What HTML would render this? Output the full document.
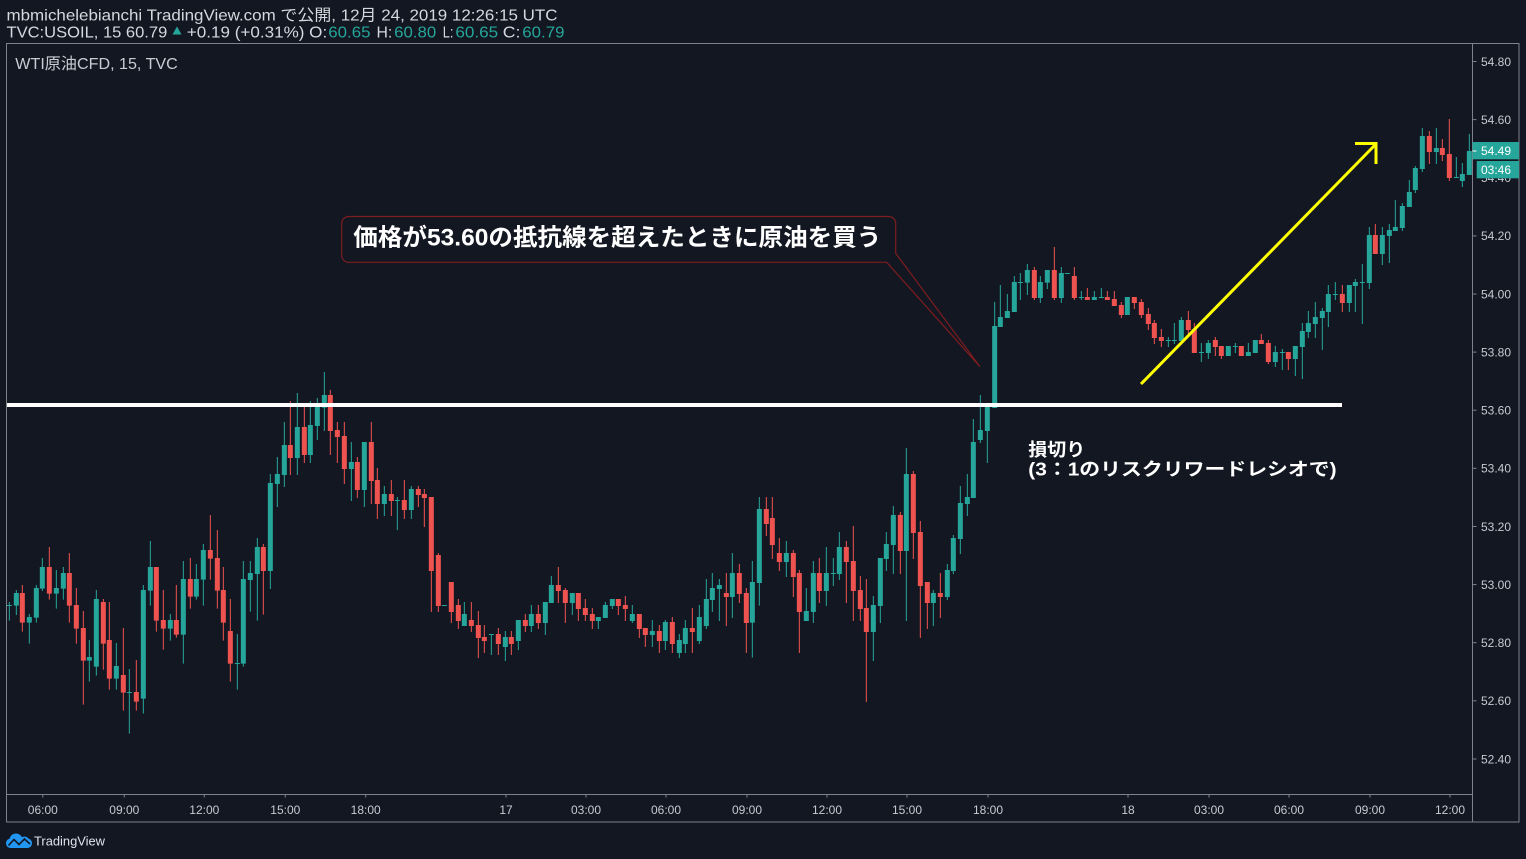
<!DOCTYPE html>
<html>
<head>
<meta charset="utf-8">
<style>
html,body{margin:0;padding:0;background:#131722;}
svg{display:block;}
.t{font-family:"Liberation Sans","Noto Sans CJK JP",sans-serif;}
</style>
</head>
<body>
<svg width="1526" height="859" viewBox="0 0 1526 859" xmlns="http://www.w3.org/2000/svg">
<rect x="0" y="0" width="1526" height="859" fill="#131722"/>

<!-- header -->
<text class="t" x="6.5" y="20.5" font-size="16" fill="#d6d8de" textLength="551" lengthAdjust="spacingAndGlyphs">mbmichelebianchi TradingView.com で公開, 12月 24, 2019 12:26:15 UTC</text>
<g class="t" font-size="16">
<text x="6.5" y="37.5" fill="#d6d8de" textLength="160.8" lengthAdjust="spacingAndGlyphs">TVC:USOIL, 15 60.79</text>
<polygon points="172.5,34.5 181.5,34.5 177,26.5" fill="#26a69a"/>
<text x="186.8" y="37.5" fill="#d6d8de" textLength="140.4" lengthAdjust="spacingAndGlyphs">+0.19 (+0.31%) O:</text>
<text x="328.3" y="37.5" fill="#26a69a" textLength="42.2" lengthAdjust="spacingAndGlyphs">60.65</text>
<text x="376.5" y="37.5" fill="#d6d8de" textLength="15.8" lengthAdjust="spacingAndGlyphs">H:</text>
<text x="394.1" y="37.5" fill="#26a69a" textLength="42.1" lengthAdjust="spacingAndGlyphs">60.80</text>
<text x="442.8" y="37.5" fill="#d6d8de" textLength="10.7" lengthAdjust="spacingAndGlyphs">L:</text>
<text x="455.4" y="37.5" fill="#26a69a" textLength="42.8" lengthAdjust="spacingAndGlyphs">60.65</text>
<text x="502.8" y="37.5" fill="#d6d8de" textLength="17.6" lengthAdjust="spacingAndGlyphs">C:</text>
<text x="522.3" y="37.5" fill="#26a69a" textLength="42.2" lengthAdjust="spacingAndGlyphs">60.79</text>
</g>

<!-- frame -->
<rect x="6.5" y="43.5" width="1512.5" height="778.5" fill="none" stroke="#7f828c" stroke-width="1"/>
<line x1="1472.5" y1="43.5" x2="1472.5" y2="822" stroke="#7f828c" stroke-width="1"/>
<line x1="6.5" y1="794.5" x2="1472.5" y2="794.5" stroke="#7f828c" stroke-width="1"/>

<!-- legend -->
<text class="t" x="15.3" y="69" font-size="16" fill="#c9ccd3" textLength="162.5" lengthAdjust="spacingAndGlyphs">WTI原油CFD, 15, TVC</text>

<!-- callout -->
<path d="M348.7 216.5 H888.7 A7 7 0 0 1 895.7 223.5 V253.3 L980 366.7 L886.7 262.3 H348.7 A7 7 0 0 1 341.7 255.3 V223.5 A7 7 0 0 1 348.7 216.5 Z" fill="#131722" stroke="#7e1d1f" stroke-width="1.2"/>
<text class="t" x="353.3" y="245.7" font-size="24" font-weight="bold" fill="#ffffff" textLength="528" lengthAdjust="spacingAndGlyphs">価格が53.60の抵抗線を超えたときに原油を買う</text>

<!-- candles group A -->
<g transform="translate(0 535) scale(0.333333)" fill="none">
<path stroke="#26a69a" stroke-width="3" d="M28 201V257M49 165V240M88 237V326M109 150V263M127 69V168M169 105V221M190 96V194M268 315V440M289 165V422M349 324V464M388 402V596M430 150V536M451 18V212M511 237V317M550 78V386M589 87V194M610 27V212M712 297V464M730 78V395"/>
<path stroke="#26a69a" stroke-width="15" d="M28 210V213M49 174V212M88 246V263M109 159V248M127 96V161M169 159V176M190 114V161M268 366V377M289 192V395M349 393V431M388 471V474M430 165V491M451 96V167M511 255V281M550 132V299M589 132V185M610 45V134M712 384V387M730 132V386"/>
<path stroke="#ef5350" stroke-width="3" d="M67 150V290M148 36V194M208 54V263M229 159V326M250 228V509M310 192V404M328 201V464M370 279V527M409 375V527M469 96V290M490 165V344M529 150V308M571 69V221M631 -60V134M652 -15V221M670 96V317M691 192V440"/>
<path stroke="#ef5350" stroke-width="15" d="M67 174V263M148 96V176M208 114V212M229 210V281M250 279V377M310 201V326M328 315V431M370 420V473M409 471V500M469 96V257M490 255V281M529 255V299M571 132V185M631 45V71M652 69V167M670 165V263M691 288V386"/>
</g>

<!-- group B -->
<g transform="translate(245 365) scale(0.333333)" fill="none">
<path stroke="#26a69a" stroke-width="3" d="M16 588V740M37 519V767M76 327V672M97 276V426M118 171V366M157 84V330M196 108V294M217 99V225M238 21V198M319 231V408M358 231V426M418 363V453M457 396V495M499 363V462M598 720V723M658 711V783M739 807V870"/>
<path stroke="#26a69a" stroke-width="15" d="M16 624V645M37 546V627M76 354V618M97 327V357M118 240V330M157 186V279M196 180V270M217 126V183M238 90V128M319 291V312M358 231V375M418 387V417M457 405V408M499 372V435M598 720V723M658 747V783M739 807V810"/>
<path stroke="#ef5350" stroke-width="3" d="M55 537V749M136 108V330M178 120V294M256 75V270M277 171V294M298 171V357M337 276V399M379 171V417M397 309V462M439 345V453M478 345V462M520 363V426M538 372V486M559 396V741M580 564V741M619 651V774M640 702V792M679 711V801M700 738V879M718 780V864"/>
<path stroke="#ef5350" stroke-width="15" d="M55 546V618M136 240V279M178 186V270M256 90V198M277 195V216M298 213V312M337 291V375M379 231V348M397 345V417M439 387V408M478 405V435M520 372V390M538 387V399M559 396V618M580 570V723M619 651V741M640 720V768M679 765V783M700 780V819M718 816V828"/>
</g>

<!-- group C -->
<g transform="translate(495 480) scale(0.333333)" fill="none">
<path stroke="#26a69a" stroke-width="3" d="M31 453V543M70 420V510M109 375V456M151 366V465M169 288V369M232 339V405M310 411V447M331 366V414M352 357V387M412 375V429M472 420V501M511 420V510M553 462V534M571 420V519M613 375V492M634 297V447M652 279V396M673 297V423M712 219V414"/>
<path stroke="#26a69a" stroke-width="15" d="M31 471V501M70 420V483M109 402V438M151 366V429M169 315V369M232 339V369M310 411V423M331 375V414M352 357V378M412 402V423M472 453V465M511 426V483M553 480V519M571 444V492M613 411V483M634 357V438M652 324V360M673 315V327M712 279V351"/>
<path stroke="#ef5350" stroke-width="3" d="M10 444V525M49 453V525M91 402V456M130 375V447M190 261V369M211 324V429M250 339V423M271 357V423M292 384V447M370 357V405M391 348V423M433 402V474M451 444V501M493 435V519M532 411V519M592 384V519M694 279V438M733 252V369M754 324V519"/>
<path stroke="#ef5350" stroke-width="15" d="M10 462V492M49 471V492M91 420V438M130 402V429M190 315V333M211 330V369M250 339V387M271 384V405M292 402V423M370 357V378M391 375V387M433 402V447M451 444V465M493 453V483M532 426V492M592 444V456M694 339V351M733 279V342M754 339V429"/>
</g>

<!-- group D -->
<g transform="translate(750 385) scale(0.333333)" fill="none">
<path stroke="#26a69a" stroke-width="3" d="M7 528V818M28 336V662M109 468V576M169 609V708M190 528V714M229 486V663M250 519V603M268 441V585M370 633V828M391 519V714M409 441V558M430 363V567M469 189V708M550 615V723M592 537V645M610 450V567M631 303V507M652 267V393M670 102V339M691 30V174M712 66V234"/>
<path stroke="#26a69a" stroke-width="15" d="M7 591V713M28 372V594M109 504V531M169 678V708M190 564V681M229 564V618M250 564V567M268 486V567M370 660V741M391 519V663M409 477V522M430 390V480M469 267V498M550 624V654M592 555V636M610 459V558M631 354V462M652 336V357M670 171V339M691 135V165M712 66V138"/>
<path stroke="#ef5350" stroke-width="3" d="M49 336V453M67 336V522M88 459V558M130 495V636M148 555V804M208 519V654M289 468V654M310 423V708M331 573V708M349 582V951M451 381V567M490 258V522M511 408V759M532 591V732M571 564V699"/>
<path stroke="#ef5350" stroke-width="15" d="M49 372V417M67 399V480M88 504V531M130 504V576M148 564V681M208 564V618M289 486V531M310 528V618M331 615V672M349 669V741M451 390V498M490 267V444M511 441V603M532 591V654M571 624V636"/>
</g>

<!-- group E -->
<g transform="translate(990 240) scale(0.333333)" fill="none">
<path stroke="#26a69a" stroke-width="3" d="M14 186V504M31 135V261M52 162V234M73 108V216M91 99V180M112 72V165M151 108V189M172 90V147M214 81V189M232 99V102M274 153V180M313 153V180M334 144V174M412 171V225M535 291V321M553 249V312M574 231V303M634 309V366M655 300V357M715 318V348M736 309V339"/>
<path stroke="#26a69a" stroke-width="15" d="M14 258V504M31 231V261M52 213V234M73 126V216M91 126V129M112 90V128M151 126V174M172 90V128M214 99V174M232 99V102M274 171V174M313 171V180M334 171V174M412 171V225M535 300V303M553 300V303M574 240V303M634 336V339M655 309V339M715 318V348M736 318V321"/>
<path stroke="#ef5350" stroke-width="3" d="M133 81V180M193 21V180M253 81V180M292 144V180M352 153V180M373 153V198M394 186V234M433 171V207M454 177V234M475 204V270M493 240V312M514 267V321M595 213V285M613 249V339M676 291V348M694 318V357M754 318V348"/>
<path stroke="#ef5350" stroke-width="15" d="M133 90V174M193 90V174M253 108V174M292 171V180M352 171V180M373 177V198M394 195V225M433 171V189M454 186V225M475 222V252M493 249V294M514 291V303M595 240V270M613 267V339M676 300V321M694 318V348M754 318V348"/>
</g>

<!-- group F -->
<g transform="translate(1245 120) scale(0.333333)" fill="none">
<path stroke="#26a69a" stroke-width="3" d="M10 669V708M31 660V699M91 678V741M112 687V750M151 678V768M172 609V777M190 573V654M211 546V654M232 564V690M250 495V621M271 486V540M313 495V576M331 477V576M352 432V612M373 321V507M412 321V435M433 312V429M451 240V333M472 249V333M493 180V261M511 138V219M532 24V156M574 24V132M634 111V174M652 129V201M673 42V165"/>
<path stroke="#26a69a" stroke-width="15" d="M10 696V708M31 660V699M91 696V726M112 696V699M151 678V717M172 633V681M190 609V636M211 591V612M232 573V594M250 522V576M271 522V525M313 495V549M331 486V498M352 486V489M373 345V489M412 345V402M433 330V348M451 321V333M472 258V324M493 216V261M511 144V210M532 48V147M574 84V96M634 171V174M652 162V183M673 93V165"/>
<path stroke="#ef5350" stroke-width="3" d="M49 642V672M70 660V732M130 696V750M292 495V576M391 312V402M553 33V132M592 57V123M613 -3V183"/>
<path stroke="#ef5350" stroke-width="15" d="M49 660V672M70 669V726M130 696V717M292 522V549M391 345V402M553 48V96M592 84V105M613 102V174"/>
</g>

<!-- white resistance line -->
<rect x="7" y="403" width="1335" height="4" fill="#ffffff"/>

<!-- yellow arrow -->
<line x1="1141" y1="384" x2="1375" y2="145" stroke="#ffff00" stroke-width="3"/>
<polyline points="1355,143.5 1376,143.5 1376,164" fill="none" stroke="#ffff00" stroke-width="3" stroke-linejoin="miter"/>

<!-- stop loss text -->
<g class="t" font-weight="bold" fill="#ffffff">
<text x="1028.3" y="456" font-size="18" textLength="57" lengthAdjust="spacingAndGlyphs">損切り</text>
<text x="1028.3" y="475.7" font-size="18" textLength="308.3" lengthAdjust="spacingAndGlyphs">(3：1のリスクリワードレシオで)</text>
</g>

<!-- price axis ticks & labels -->
<g stroke="#7f828c" stroke-width="1">
<line x1="1472.5" y1="61.5" x2="1476.5" y2="61.5"/>
<line x1="1472.5" y1="119.6" x2="1476.5" y2="119.6"/>
<line x1="1472.5" y1="235.9" x2="1476.5" y2="235.9"/>
<line x1="1472.5" y1="294" x2="1476.5" y2="294"/>
<line x1="1472.5" y1="352.1" x2="1476.5" y2="352.1"/>
<line x1="1472.5" y1="410.2" x2="1476.5" y2="410.2"/>
<line x1="1472.5" y1="468.3" x2="1476.5" y2="468.3"/>
<line x1="1472.5" y1="526.5" x2="1476.5" y2="526.5"/>
<line x1="1472.5" y1="584.6" x2="1476.5" y2="584.6"/>
<line x1="1472.5" y1="642.7" x2="1476.5" y2="642.7"/>
<line x1="1472.5" y1="700.8" x2="1476.5" y2="700.8"/>
<line x1="1472.5" y1="759" x2="1476.5" y2="759"/>
</g>
<g class="t" font-size="12" fill="#c8cad0">
<text x="1481" y="65.8">54.80</text>
<text x="1481" y="123.9">54.60</text>
<text x="1481" y="182">54.40</text>
<text x="1481" y="240.2">54.20</text>
<text x="1481" y="298.3">54.00</text>
<text x="1481" y="356.4">53.80</text>
<text x="1481" y="414.5">53.60</text>
<text x="1481" y="472.6">53.40</text>
<text x="1481" y="530.8">53.20</text>
<text x="1481" y="588.9">53.00</text>
<text x="1481" y="647">52.80</text>
<text x="1481" y="705.1">52.60</text>
<text x="1481" y="763.3">52.40</text>
</g>

<!-- current price labels -->
<rect x="1472.5" y="142" width="46.5" height="17.3" fill="#26a69a"/>
<line x1="1472.5" y1="151" x2="1476.5" y2="151" stroke="#ffffff" stroke-width="1"/>
<text class="t" x="1481" y="155" font-size="12" fill="#ffffff">54.49</text>
<rect x="1476.7" y="161" width="42.3" height="17.3" fill="#26a69a"/>
<text class="t" x="1481" y="174" font-size="12" fill="#ffffff">03:46</text>

<!-- time axis ticks & labels -->
<g stroke="#7f828c" stroke-width="1">
<line x1="42.8" y1="794.5" x2="42.8" y2="797.5"/>
<line x1="124.3" y1="794.5" x2="124.3" y2="797.5"/>
<line x1="204.3" y1="794.5" x2="204.3" y2="797.5"/>
<line x1="285.3" y1="794.5" x2="285.3" y2="797.5"/>
<line x1="365.7" y1="794.5" x2="365.7" y2="797.5"/>
<line x1="506" y1="794.5" x2="506" y2="797.5"/>
<line x1="586" y1="794.5" x2="586" y2="797.5"/>
<line x1="666" y1="794.5" x2="666" y2="797.5"/>
<line x1="747" y1="794.5" x2="747" y2="797.5"/>
<line x1="827" y1="794.5" x2="827" y2="797.5"/>
<line x1="907" y1="794.5" x2="907" y2="797.5"/>
<line x1="988" y1="794.5" x2="988" y2="797.5"/>
<line x1="1128" y1="794.5" x2="1128" y2="797.5"/>
<line x1="1209" y1="794.5" x2="1209" y2="797.5"/>
<line x1="1289" y1="794.5" x2="1289" y2="797.5"/>
<line x1="1370" y1="794.5" x2="1370" y2="797.5"/>
<line x1="1450" y1="794.5" x2="1450" y2="797.5"/>
</g>
<g class="t" font-size="12" fill="#c8cad0" text-anchor="middle">
<text x="42.8" y="814">06:00</text>
<text x="124.3" y="814">09:00</text>
<text x="204.3" y="814">12:00</text>
<text x="285.3" y="814">15:00</text>
<text x="365.7" y="814">18:00</text>
<text x="506" y="814">17</text>
<text x="586" y="814">03:00</text>
<text x="666" y="814">06:00</text>
<text x="747" y="814">09:00</text>
<text x="827" y="814">12:00</text>
<text x="907" y="814">15:00</text>
<text x="988" y="814">18:00</text>
<text x="1128" y="814">18</text>
<text x="1209" y="814">03:00</text>
<text x="1289" y="814">06:00</text>
<text x="1370" y="814">09:00</text>
<text x="1450" y="814">12:00</text>
</g>

<!-- TradingView logo -->
<g fill="#2196f3">
<rect x="6" y="838.5" width="26" height="9.5" rx="4.5"/>
<circle cx="16" cy="840" r="6.5"/>
<circle cx="24.5" cy="841.5" r="5"/>
</g>
<polyline points="8.5,845.5 14,839.5 19,844.5 24.5,839 30,844" fill="none" stroke="#131722" stroke-width="1.6"/>
<text class="t" x="34" y="845.3" font-size="13" fill="#e0e3eb" textLength="71" lengthAdjust="spacingAndGlyphs">TradingView</text>
</svg>
</body>
</html>
